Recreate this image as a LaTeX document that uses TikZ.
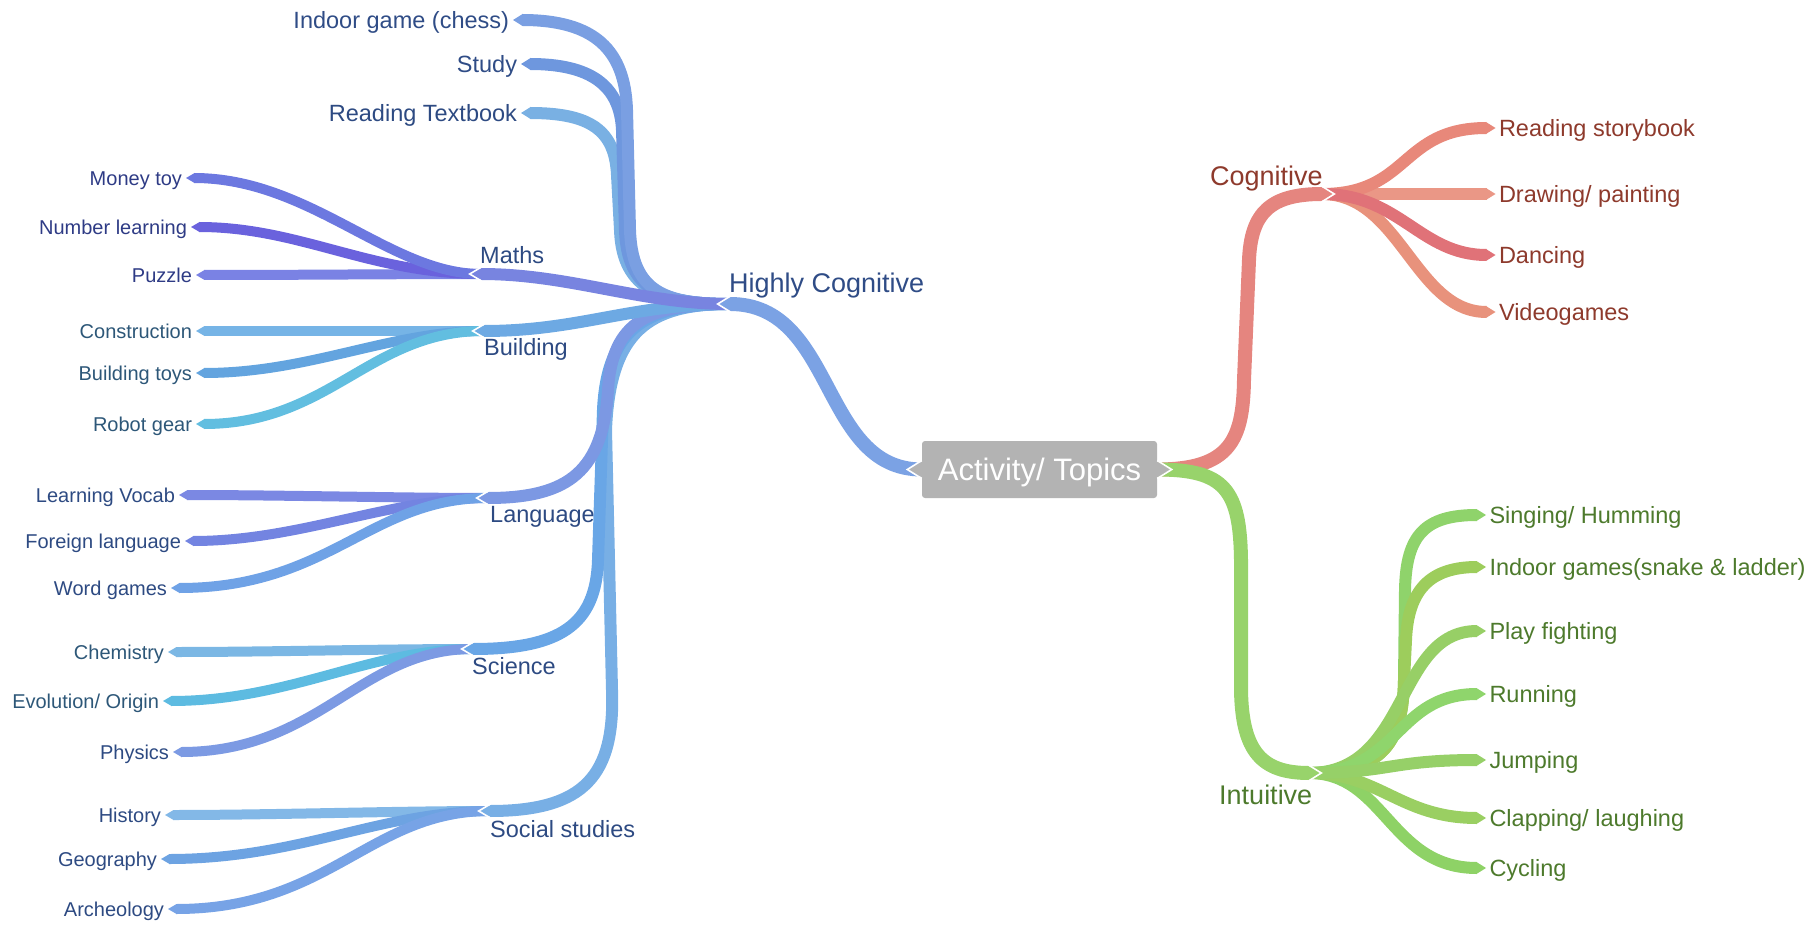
\documentclass[tikz,border=0pt]{standalone}
\usepackage{fontspec}
\setmainfont{Liberation Sans}

% line colours
\definecolor{boxgray}{HTML}{B3B3B3}
\definecolor{trunkblue}{HTML}{7BA2E4}
\definecolor{chessC}{HTML}{7A9FE2}
\definecolor{studyC}{HTML}{6E97DE}
\definecolor{readtbC}{HTML}{79B0E3}
\definecolor{mathsC}{HTML}{7884E0}
\definecolor{moneyC}{HTML}{6C78E0}
\definecolor{numlC}{HTML}{6A62DD}
\definecolor{puzzleC}{HTML}{7A82E4}
\definecolor{buildC}{HTML}{6DA9E3}
\definecolor{constrC}{HTML}{76B4E6}
\definecolor{btoysC}{HTML}{63A4DF}
\definecolor{robotC}{HTML}{62BEE0}
\definecolor{langC}{HTML}{7C98E3}
\definecolor{vocabC}{HTML}{7B88E3}
\definecolor{foreignC}{HTML}{7384E1}
\definecolor{wordgC}{HTML}{6FA2E6}
\definecolor{sciC}{HTML}{69A6E6}
\definecolor{chemC}{HTML}{7BB7E4}
\definecolor{evolC}{HTML}{5DBBE1}
\definecolor{physC}{HTML}{7C9AE3}
\definecolor{socC}{HTML}{78AFE5}
\definecolor{histC}{HTML}{83B8E7}
\definecolor{geogC}{HTML}{6DA3E2}
\definecolor{archC}{HTML}{77A3E6}
\definecolor{cogtrunk}{HTML}{E5857F}
\definecolor{readsbC}{HTML}{E8887A}
\definecolor{drawC}{HTML}{EA9786}
\definecolor{danceC}{HTML}{E07278}
\definecolor{videoC}{HTML}{E8927C}
\definecolor{inttrunk}{HTML}{98D36B}
\definecolor{singC}{HTML}{8FD36B}
\definecolor{indoorC}{HTML}{9DCD5C}
\definecolor{playC}{HTML}{97CF66}
\definecolor{runC}{HTML}{8FD56C}
\definecolor{jumpC}{HTML}{96D068}
\definecolor{clapC}{HTML}{9ACF62}
\definecolor{cycleC}{HTML}{8ED266}
% text colours
\definecolor{hcText}{HTML}{2F4C86}
\definecolor{tNavy}{HTML}{2E3B85}
\definecolor{tTeal}{HTML}{2D5778}
\definecolor{tBlue}{HTML}{2D4A82}
\definecolor{cogText}{HTML}{8E3A2C}
\definecolor{intText}{HTML}{4D7A2C}

\tikzset{
  lleaf/.style={anchor=east, inner xsep=4pt, inner ysep=0pt, outer sep=0pt,
    text height=14.3pt, text depth=0pt, font=\fontsize{20}{20}\selectfont},
  ltop/.style={anchor=east, inner xsep=4pt, inner ysep=0pt, outer sep=0pt,
    text height=16.8pt, text depth=0pt, font=\fontsize{23.5}{23.5}\selectfont},
  rleaf/.style={anchor=west, inner xsep=3.5pt, inner ysep=0pt, outer sep=0pt,
    text height=16.8pt, text depth=0pt, font=\fontsize{23.5}{23.5}\selectfont},
  blabel/.style={anchor=west, inner sep=0pt, text height=16.8pt, text depth=0pt,
    font=\fontsize{23.5}{23.5}\selectfont},
  mlabel/.style={anchor=west, inner sep=0pt, text height=19.3pt, text depth=0pt,
    font=\fontsize{27}{27}\selectfont},
  notchline/.style={white, line width=1.6pt},
}
% pointed line ends: #1 tip, #2 colour, #3 half width, #4 tip length
\newcommand\tipL[4]{\fill[#2] ([shift={(#4+0.6,-#3)}]#1) -- (#1) -- ([shift={(#4+0.6,#3)}]#1) -- cycle;}
\newcommand\tipR[4]{\fill[#2] ([shift={(-#4-0.6,-#3)}]#1) -- (#1) -- ([shift={(-#4-0.6,#3)}]#1) -- cycle;}
% a link ending in a point: #1 start, #2 path middle, #3 tip, #4 colour, #5 width, #6 tip length
\newcommand\linkL[6]{\draw[#4, line width=#5pt] (#1) #2 ([xshift=#6pt]#3); \tipL{#3}{#4}{#5/2}{#6}}
\newcommand\linkR[6]{\draw[#4, line width=#5pt] (#1) #2 ([xshift=-#6pt]#3); \tipR{#3}{#4}{#5/2}{#6}}
% white outline round a point where a branch splits: #1 tip, #2 half width, #3 tip length
\newcommand\notchL[3]{\draw[notchline] ([shift={(#3+0.5,-#2-1)}]#1) -- ([shift={(-1.3,0)}]#1) -- ([shift={(#3+0.5,#2+1)}]#1);}
\newcommand\notchR[3]{\draw[notchline] ([shift={(-#3-0.5,-#2-1)}]#1) -- ([shift={(1.3,0)}]#1) -- ([shift={(-#3-0.5,#2+1)}]#1);}

\begin{document}
\begin{tikzpicture}[x=1pt,y=-1pt]
\path[use as bounding box] (0,0) rectangle (1815,925);

% centre topic
\node[fill=boxgray, rounded corners=3pt, minimum width=235pt, minimum height=57pt,
  inner sep=0pt, text=white, text height=22.2pt, text depth=0pt,
  font=\fontsize{31}{31}\selectfont] (root) at (1039.5,469.5) {Activity/ Topics};

% branch points: tip of the incoming link and the base where children start
\coordinate (hcTip) at (719,304);    \coordinate (hcB) at (730,304);
\coordinate (mathsTip) at (471,274); \coordinate (mathsB) at (481,274);
\coordinate (buildTip) at (474,331); \coordinate (buildB) at (484,331);
\coordinate (langTip) at (478,498);  \coordinate (langB) at (488,498);
\coordinate (sciTip) at (463,649);   \coordinate (sciB) at (473,649);
\coordinate (socTip) at (480,811);   \coordinate (socB) at (490,811);
\coordinate (cogTip) at (1333,194);  \coordinate (cogB) at (1322,194);
\coordinate (intTip) at (1320,773);  \coordinate (intB) at (1309,773);

% main labels
\node[mlabel, text=hcText] (hcT) at (729,283) {Highly Cognitive};
\node[mlabel, text=cogText] (cogT) at (1210,176) {Cognitive};
\node[mlabel, text=intText] (intT) at (1219,795) {Intuitive};

% branch labels
\node[blabel, text=tBlue] (mathsT) at (480,255) {Maths};
\node[blabel, text=tBlue] (buildT) at (484,347) {Building};
\node[blabel, text=tBlue] (langT) at (490,514) {Language};
\node[blabel, text=tBlue] (sciT) at (472,666) {Science};
\node[blabel, text=tBlue] (socT) at (490,829) {Social studies};

% leaves of Highly Cognitive
\node[ltop, text=hcText] (chess) at (513,20) {Indoor game (chess)};
\node[ltop, text=hcText] (study) at (521,64) {Study};
\node[ltop, text=tBlue] (readtb) at (521,113) {Reading Textbook};

\node[lleaf, text=tNavy] (money) at (186,178) {Money toy};
\node[lleaf, text=tNavy] (numl) at (191,227) {Number learning};
\node[lleaf, text=tNavy] (puzzle) at (196,275) {Puzzle};
\node[lleaf, text=tTeal] (constr) at (196,331) {Construction};
\node[lleaf, text=tTeal] (btoys) at (196,373) {Building toys};
\node[lleaf, text=tTeal] (robot) at (196,424) {Robot gear};
\node[lleaf, text=tBlue] (vocab) at (179,495) {Learning Vocab};
\node[lleaf, text=tBlue] (foreign) at (185,541) {Foreign language};
\node[lleaf, text=tBlue] (wordg) at (171,588) {Word games};
\node[lleaf, text=tTeal] (chem) at (168,652) {Chemistry};
\node[lleaf, text=tTeal] (evol) at (163,701) {Evolution/ Origin};
\node[lleaf, text=tBlue] (phys) at (173,752) {Physics};
\node[lleaf, text=tBlue] (hist) at (165,815) {History};
\node[lleaf, text=tBlue] (geog) at (161,859) {Geography};
\node[lleaf, text=tBlue] (arch) at (168,909) {Archeology};

% leaves of Cognitive
\node[rleaf, text=cogText] (readsb) at (1495.5,128) {Reading storybook};
\node[rleaf, text=cogText] (drawp) at (1495.5,194) {Drawing/ painting};
\node[rleaf, text=cogText] (dance) at (1495.5,255) {Dancing};
\node[rleaf, text=cogText] (video) at (1495.5,312) {Videogames};

% leaves of Intuitive
\node[rleaf, text=intText] (sing) at (1486,515) {Singing/ Humming};
\node[rleaf, text=intText] (indoor) at (1486,567) {Indoor games(snake \& ladder)};
\node[rleaf, text=intText] (play) at (1486,631) {Play fighting};
\node[rleaf, text=intText] (run) at (1486,694) {Running};
\node[rleaf, text=intText] (jump) at (1486,760) {Jumping};
\node[rleaf, text=intText] (clap) at (1486,818) {Clapping/ laughing};
\node[rleaf, text=intText] (cycle) at (1486,868) {Cycling};

% ---- left tree: sub-leaves ----
\linkL{mathsB}{.. controls (400,274) and (300,275) ..}{puzzle.east}{puzzleC}{10}{8}
\linkL{mathsB}{.. controls (370,274) and (300,227) ..}{numl.east}{numlC}{10}{8}
\linkL{mathsB}{.. controls (390,274) and (310,178) ..}{money.east}{moneyC}{10}{8}

\linkL{buildB}{.. controls (400,331) and (300,331) ..}{constr.east}{constrC}{10}{8}
\linkL{buildB}{.. controls (390,331) and (310,373) ..}{btoys.east}{btoysC}{10}{8}
\linkL{buildB}{.. controls (370,331) and (330,424) ..}{robot.east}{robotC}{10}{8}

\linkL{langB}{.. controls (400,498) and (280,495) ..}{vocab.east}{vocabC}{10}{8}
\linkL{langB}{.. controls (390,498) and (300,541) ..}{foreign.east}{foreignC}{10}{8}
\linkL{langB}{.. controls (370,498) and (330,588) ..}{wordg.east}{wordgC}{10}{8}

\linkL{sciB}{.. controls (380,649) and (270,652) ..}{chem.east}{chemC}{10}{8}
\linkL{sciB}{.. controls (370,649) and (290,701) ..}{evol.east}{evolC}{10}{8}
\linkL{sciB}{.. controls (360,649) and (320,752) ..}{phys.east}{physC}{10}{8}

\linkL{socB}{.. controls (400,811) and (270,815) ..}{hist.east}{histC}{10}{8}
\linkL{socB}{.. controls (380,811) and (300,859) ..}{geog.east}{geogC}{10}{8}
\linkL{socB}{.. controls (370,811) and (330,909) ..}{arch.east}{archC}{10}{8}

% ---- left tree: children of Highly Cognitive ----
\linkL{hcB}{.. controls (650,304) and (610,330) .. (606,430) -- (612,690) .. controls (615,775) and (585,811) ..}{socTip}{socC}{12}{10}
\linkL{hcB}{.. controls (650,304) and (607,325) .. (603,410) -- (598,560) .. controls (596,625) and (560,649) ..}{sciTip}{sciC}{12}{10}
\linkL{hcB}{.. controls (650,304) and (612,320) .. (608,390) .. controls (603,470) and (570,498) ..}{langTip}{langC}{12}{10}
\linkL{hcB}{.. controls (665,304) and (622,292) .. (620,230) -- (617,175) .. controls (615,130) and (590,113) ..}{readtb.east}{readtbC}{12}{9}
\linkL{hcB}{.. controls (665,304) and (627,292) .. (625,230) -- (622,130) .. controls (620,85) and (590,64) ..}{study.east}{studyC}{12}{9}
\linkL{hcB}{.. controls (665,304) and (632,292) .. (630,230) -- (627,110) .. controls (625,50) and (595,20) ..}{chess.east}{chessC}{12}{9}
\linkL{hcB}{.. controls (630,304) and (580,331) ..}{buildTip}{buildC}{12}{10}
\linkL{hcB}{.. controls (640,304) and (570,274) ..}{mathsTip}{mathsC}{12}{10}
\notchL{mathsTip}{6}{10}
\notchL{buildTip}{6}{10}
\notchL{langTip}{6}{10}
\notchL{sciTip}{6}{10}
\notchL{socTip}{6}{10}

% trunk to Highly Cognitive
\linkL{root.west}{.. controls (820,469.5) and (836,304) ..}{hcTip}{trunkblue}{14}{11}
\notchL{hcTip}{7}{11}

% ---- right tree: Cognitive ----
\linkR{cogB}{.. controls (1400,194) and (1420,194) ..}{drawp.west}{drawC}{12}{9}
\linkR{cogB}{.. controls (1410,194) and (1400,128) ..}{readsb.west}{readsbC}{12}{9}
\linkR{cogB}{.. controls (1400,194) and (1415,312) ..}{video.west}{videoC}{12}{9}
\linkR{cogB}{.. controls (1400,194) and (1420,255) ..}{dance.west}{danceC}{12}{9}
\linkR{root.east}{.. controls (1230,469.5) and (1243,440) .. (1244,380) -- (1249,260) .. controls (1251,213) and (1270,194) ..}{cogTip}{cogtrunk}{14}{11}
\notchR{cogTip}{7}{11}

% ---- right tree: Intuitive ----
\linkR{intB}{.. controls (1385,773) and (1403,740) .. (1404,680) -- (1405,590) .. controls (1406,535) and (1425,515) ..}{sing.west}{singC}{12}{9}
\linkR{intB}{.. controls (1385,773) and (1403,740) .. (1404,680) -- (1406,640) .. controls (1408,590) and (1430,567) ..}{indoor.west}{indoorC}{12}{9}
\linkR{intB}{.. controls (1410,773) and (1395,631) ..}{play.west}{playC}{12}{9}
\linkR{intB}{.. controls (1400,773) and (1395,694) ..}{run.west}{runC}{12}{9}
\linkR{intB}{.. controls (1385,773) and (1390,868) ..}{cycle.west}{cycleC}{12}{9}
\linkR{intB}{.. controls (1380,773) and (1400,818) ..}{clap.west}{clapC}{12}{9}
\linkR{intB}{.. controls (1390,773) and (1390,760) ..}{jump.west}{jumpC}{12}{9}
\linkR{root.east}{.. controls (1225,469.5) and (1240,490) .. (1241,560) -- (1241,690) .. controls (1242,752) and (1262,773) ..}{intTip}{inttrunk}{14}{11}
\notchR{intTip}{7}{11}

% pointed tabs on the centre box
\fill[boxgray] ([yshift=-8pt]root.west) -- ([xshift=-13pt]root.west) -- ([yshift=8pt]root.west) -- cycle;
\draw[notchline] ([yshift=-9pt]root.west) -- ([xshift=-14.5pt]root.west) -- ([yshift=9pt]root.west);
\fill[boxgray] ([yshift=-8pt]root.east) -- ([xshift=13pt]root.east) -- ([yshift=8pt]root.east) -- cycle;
\draw[notchline] ([yshift=-9pt]root.east) -- ([xshift=14.5pt]root.east) -- ([yshift=9pt]root.east);
\end{tikzpicture}
\end{document}
